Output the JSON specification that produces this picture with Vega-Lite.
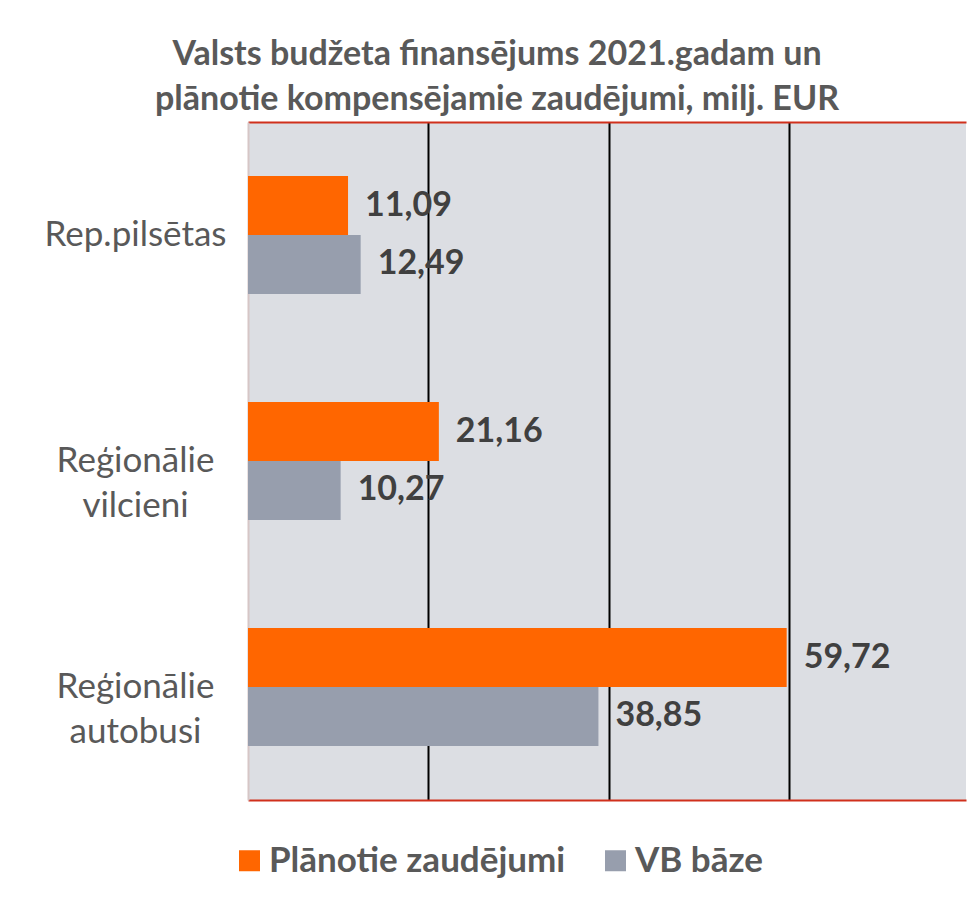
{
  "$schema": "https://vega.github.io/schema/vega-lite/v6.json",
  "autosize": {"type": "none"},
  "padding": {"left": 248, "top": 122, "right": 1, "bottom": 103},
  "width": 718,
  "height": 678,
  "background": "white",
  "title": {
    "text": ["Valsts budžeta finansējums 2021.gadam un", "plānotie kompensējamie zaudējumi, milj. EUR"],
    "fontSize": 34,
    "fontWeight": "bold",
    "color": "#595959",
    "lineHeight": 45,
    "anchor": "middle",
    "dx": -110,
    "offset": 5
  },
  "data": {
    "values": [
      {"kategorija": "Rep.pilsētas", "serija": "Plānotie zaudējumi", "vertiba": 11.09},
      {"kategorija": "Rep.pilsētas", "serija": "VB bāze", "vertiba": 12.49},
      {"kategorija": "Reģionālie vilcieni", "serija": "Plānotie zaudējumi", "vertiba": 21.16},
      {"kategorija": "Reģionālie vilcieni", "serija": "VB bāze", "vertiba": 10.27},
      {"kategorija": "Reģionālie autobusi", "serija": "Plānotie zaudējumi", "vertiba": 59.72},
      {"kategorija": "Reģionālie autobusi", "serija": "VB bāze", "vertiba": 38.85}
    ]
  },
  "encoding": {
    "y": {
      "field": "kategorija",
      "type": "nominal",
      "sort": ["Rep.pilsētas", "Reģionālie vilcieni", "Reģionālie autobusi"],
      "scale": {"paddingInner": 0.478, "paddingOuter": 0.239},
      "axis": {
        "title": null,
        "ticks": false,
        "domainColor": "#d6c6c6",
        "domainWidth": 2,
        "labelAlign": "center",
        "labelBaseline": "middle",
        "labelPadding": 113,
        "labelFontSize": 35,
        "labelColor": "#595959",
        "labelLineHeight": 45,
        "labelLimit": 300,
        "labelExpr": "split(datum.label, ' ')"
      }
    },
    "yOffset": {
      "field": "serija",
      "type": "nominal",
      "sort": ["Plānotie zaudējumi", "VB bāze"],
      "scale": {"paddingInner": 0, "paddingOuter": 0}
    }
  },
  "layer": [
    {
      "mark": {"type": "bar"},
      "encoding": {
        "x": {
          "field": "vertiba",
          "type": "quantitative",
          "scale": {"domain": [0, 79.6], "nice": false, "zero": true},
          "axis": {
            "orient": "bottom",
            "title": null,
            "labels": false,
            "ticks": false,
            "values": [20, 40, 60],
            "grid": true,
            "gridColor": "#000000",
            "gridWidth": 2,
            "gridOpacity": 1,
            "domainColor": "#d0301c",
            "domainWidth": 2
          }
        },
        "color": {
          "field": "serija",
          "type": "nominal",
          "sort": ["Plānotie zaudējumi", "VB bāze"],
          "scale": {"domain": ["Plānotie zaudējumi", "VB bāze"], "range": ["#ff6600", "#979ead"]},
          "legend": {
            "orient": "none",
            "legendX": -16,
            "legendY": 721,
            "title": null,
            "direction": "horizontal",
            "padding": 0,
            "symbolType": "square",
            "symbolSize": 441,
            "symbolStrokeWidth": 0,
            "labelFontSize": 35,
            "labelFontWeight": "bold",
            "labelColor": "#595959",
            "labelOffset": 2,
            "labelLimit": 500,
            "columnPadding": 32
          }
        }
      }
    },
    {
      "mark": {"type": "text", "align": "left", "baseline": "middle", "dx": 17, "fontSize": 34, "fontWeight": "bold", "color": "#404040"},
      "encoding": {
        "x": {
          "field": "vertiba",
          "type": "quantitative",
          "axis": {
            "orient": "top",
            "title": null,
            "labels": false,
            "ticks": false,
            "grid": false,
            "values": [],
            "domainColor": "#d0301c",
            "domainWidth": 2
          }
        },
        "text": {"field": "vertiba", "type": "quantitative", "format": ".2f"}
      }
    }
  ],
  "resolve": {"axis": {"x": "independent"}},
  "config": {
    "font": "Lato",
    "view": {"stroke": null, "fill": "#dcdee3"},
    "locale": {"number": {"decimal": ",", "thousands": " ", "grouping": [3], "currency": ["", " €"]}}
  }
}
